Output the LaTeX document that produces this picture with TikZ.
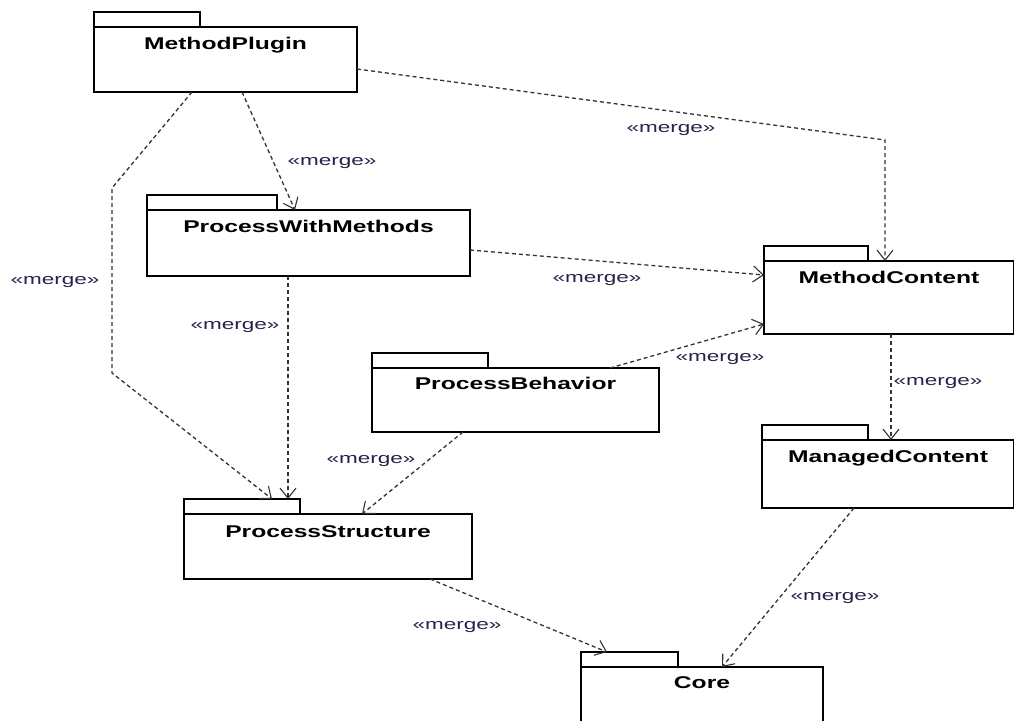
\documentclass[tikz,border=0pt]{standalone}
\usepackage{fontspec}
\setmainfont{Liberation Sans}
\usepackage{graphicx}
\usetikzlibrary{arrows.meta,positioning,calc}
\definecolor{mergeblue}{RGB}{35,35,75}
\newcommand{\widetext}[2]{\scalebox{#1}[1]{#2}}

\begin{document}
\begin{tikzpicture}[x=1pt, y=-1pt,
    pkgbody/.style={draw, line width=1.3pt, rectangle, inner sep=0pt, outer sep=0pt, anchor=north west},
    pkgtab/.style={draw, line width=1.3pt, rectangle, inner sep=0pt, outer sep=0pt, minimum height=15pt, anchor=south west},
    pkgname/.style={font=\fontsize{17}{20}\bfseries\selectfont, inner sep=0pt, anchor=base},
    mergelabel/.style={font=\fontsize{15}{18}\selectfont, text=mergeblue, inner sep=0pt},
    merge/.style={draw=black!80, line width=1.3pt, dash pattern=on 4pt off 3pt,
        -{Straight Barb[length=10pt, width=16pt, line width=1.1pt]}}]
    \clip (0,0) rectangle (1014,720);
    % packages
    \node[pkgbody, minimum width=263pt, minimum height=65pt] (mp) at (94,27) {};
    \node[pkgtab, minimum width=106pt] (mp-tab) at (mp.north west) {};
    \node[pkgname] (mp-t) at ([yshift=-22pt]mp.north) {\widetext{1.45}{MethodPlugin}};

    \node[pkgbody, minimum width=323pt, minimum height=66pt] (pwm) at (147,210) {};
    \node[pkgtab, minimum width=130pt] (pwm-tab) at (pwm.north west) {};
    \node[pkgname] (pwm-t) at ([yshift=-22pt]pwm.north) {\widetext{1.45}{ProcessWithMethods}};

    \node[pkgbody, minimum width=250pt, minimum height=73pt] (mc) at (764,261) {};
    \node[pkgtab, minimum width=104pt] (mc-tab) at (mc.north west) {};
    \node[pkgname] (mc-t) at ([yshift=-22pt]mc.north) {\widetext{1.45}{MethodContent}};

    \node[pkgbody, minimum width=287pt, minimum height=64pt] (pb) at (372,368) {};
    \node[pkgtab, minimum width=116pt] (pb-tab) at (pb.north west) {};
    \node[pkgname] (pb-t) at ([yshift=-21pt]pb.north) {\widetext{1.45}{ProcessBehavior}};

    \node[pkgbody, minimum width=252pt, minimum height=68pt] (mgc) at (762,440) {};
    \node[pkgtab, minimum width=106pt] (mgc-tab) at (mgc.north west) {};
    \node[pkgname] (mgc-t) at ([yshift=-22pt]mgc.north) {\widetext{1.45}{ManagedContent}};

    \node[pkgbody, minimum width=288pt, minimum height=65pt] (ps) at (184,514) {};
    \node[pkgtab, minimum width=116pt] (ps-tab) at (ps.north west) {};
    \node[pkgname] (ps-t) at ([yshift=-23pt]ps.north) {\widetext{1.45}{ProcessStructure}};

    \node[pkgbody, minimum width=242pt, minimum height=62pt] (core) at (581,667) {};
    \node[pkgtab, minimum width=97pt] (core-tab) at (core.north west) {};
    \node[pkgname] (core-t) at ([yshift=-21pt]core.north) {\widetext{1.45}{Core}};

    % merge dependencies
    \draw[merge] ([xshift=148pt]mp.south west) -- ([xshift=148pt]pwm.north west);
    \draw[merge] ([xshift=98pt]mp.south west) -- (112,188) -- (112,373) -- ([xshift=88pt]ps-tab.north west);
    \draw[merge] ([yshift=-42pt]mp.north east) -- (885,140) -- ([xshift=121pt]mc.north west);
    \draw[merge] ([yshift=-40pt]pwm.north east) -- ([yshift=-14pt]mc.north west);
    \draw[merge] ([xshift=141pt]pwm.south west) -- ([xshift=104pt]ps-tab.north west);
    \draw[merge] ([xshift=238pt]pb.north west) -- ([yshift=10pt]mc.south west);
    \draw[merge] ([xshift=91pt]pb.south west) -- ([xshift=178pt]ps.north west);
    \draw[merge] ([xshift=127pt]mc.south west) -- ([xshift=129pt]mgc.north west);
    \draw[merge] ([xshift=246pt]ps.south west) -- ([xshift=26pt]core-tab.north west);
    \draw[merge] ([xshift=92pt]mgc.south west) -- ([xshift=141pt]core.north west);

    % labels
    \node[mergelabel] (l-mp-pwm) at (332,163) {\widetext{1.5}{«merge»}};
    \node[mergelabel] (l-mp-ps) at (55,282) {\widetext{1.5}{«merge»}};
    \node[mergelabel] (l-mp-mc) at (671,130) {\widetext{1.5}{«merge»}};
    \node[mergelabel] (l-pwm-mc) at (597,280) {\widetext{1.5}{«merge»}};
    \node[mergelabel] (l-pwm-ps) at (235,327) {\widetext{1.5}{«merge»}};
    \node[mergelabel] (l-pb-mc) at (720,359) {\widetext{1.5}{«merge»}};
    \node[mergelabel] (l-pb-ps) at (371,461) {\widetext{1.5}{«merge»}};
    \node[mergelabel] (l-mc-mgc) at (938,383) {\widetext{1.5}{«merge»}};
    \node[mergelabel] (l-ps-core) at (457,627) {\widetext{1.5}{«merge»}};
    \node[mergelabel] (l-mgc-core) at (835,598) {\widetext{1.5}{«merge»}};
\end{tikzpicture}
\end{document}
